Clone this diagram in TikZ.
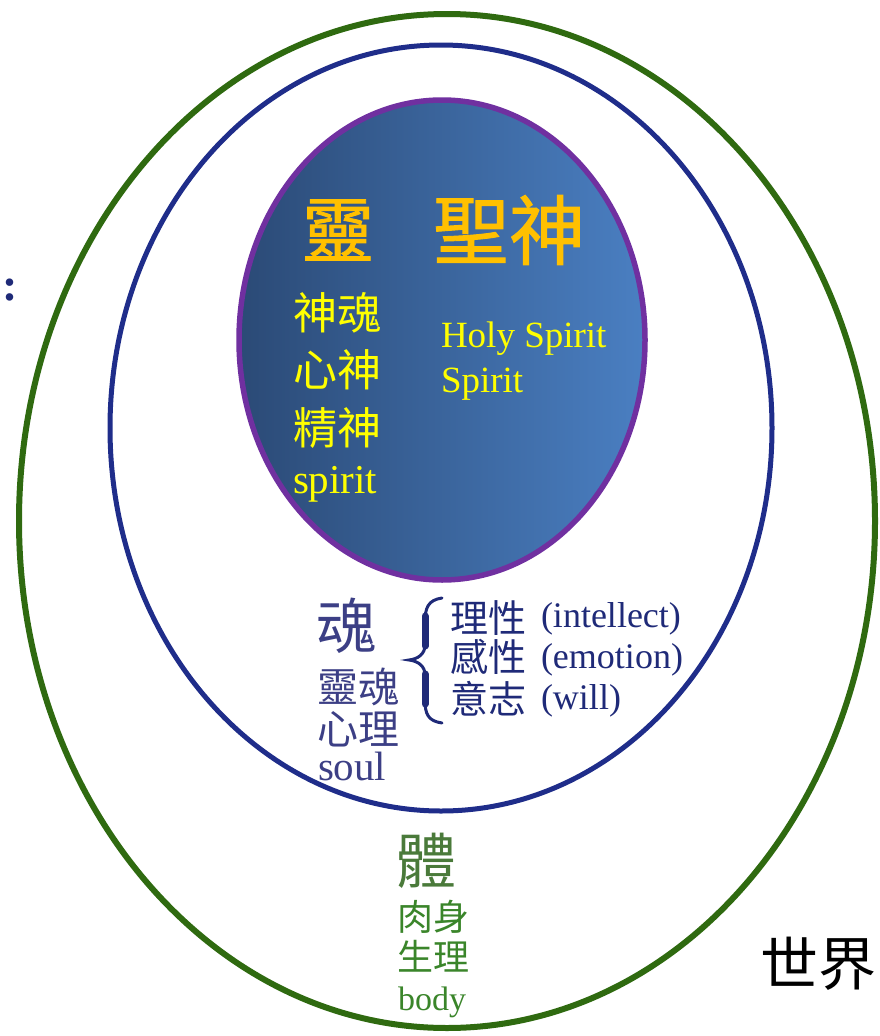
\documentclass[tikz,border=0pt]{standalone}
\usepackage{fontspec}
\setmainfont{Liberation Serif}
\newfontfamily\cjk{Noto Sans CJK TC}
\newfontfamily\cjkb[FakeBold=1.2]{Noto Sans CJK TC}
\definecolor{worldgreen}{HTML}{2F6A10}
\definecolor{soulblue}{HTML}{1F2D8A}
\definecolor{spiritpurple}{HTML}{7030A0}
\definecolor{spiritdark}{HTML}{2B4A76}
\definecolor{spiritlight}{HTML}{4A7FC2}
\definecolor{gold}{HTML}{FFC000}
\definecolor{lemon}{HTML}{FFFF00}
\definecolor{soultext}{HTML}{3C3F85}
\definecolor{navy}{HTML}{1F2A78}
\definecolor{bodygreen}{HTML}{3A852A}
\definecolor{bodychar}{HTML}{4A7A3A}
\tikzset{
  lbl/.style={inner sep=0pt, outer sep=0pt},
  cjkw/.style={lbl, anchor=west, font=\cjk\fontsize{#1}{#1}\selectfont},
  cjkbw/.style={lbl, anchor=west, font=\cjkb\fontsize{#1}{#1}\selectfont},
  latb/.style={lbl, anchor=base west, font=\fontsize{#1}{#1}\selectfont},
}
\begin{document}
\begin{tikzpicture}[x=1pt,y=-1pt]
\useasboundingbox (0,0) rectangle (879,1036);
% outer world ellipse
\draw[worldgreen, line width=6pt] (447,521) ellipse [x radius=428, y radius=507];
% soul ellipse
\draw[soulblue, line width=5pt] (441,428) ellipse [x radius=331, y radius=383];
% spirit ellipse
\shade[left color=spiritdark, right color=spiritlight] (442,340) ellipse [x radius=203, y radius=240];
\draw[spiritpurple, line width=5.5pt] (442,340) ellipse [x radius=203, y radius=240];
% colon at left
\node[lbl, text=navy, font=\bfseries\fontsize{46}{46}\selectfont] (colon) at (10,290) {:};
% spirit texts
\node[cjkbw=72, text=gold] (ling) at (302,230) {靈};
\node[cjkbw=76, text=gold] (holy) at (433,230) {聖神};
\node[cjkw=44, text=lemon] (s1) at (293,313) {神魂};
\node[cjkw=44, text=lemon] (s2) at (293,370) {心神};
\node[cjkw=44, text=lemon] (s3) at (293,428) {精神};
\node[latb=41, text=lemon] (s4) at (293,493) {spirit};
\node[latb=37, text=lemon] (hs) at (441,347) {Holy Spirit};
\node[latb=37, text=lemon] (sp) at (441,392) {Spirit};
% soul texts
\node[cjkw=60, text=soultext] (hun) at (316,626) {魂};
\node[cjkw=41, text=soultext] (h2) at (317,687) {靈魂};
\node[cjkw=41, text=soultext] (h3) at (317,729) {心理};
\node[latb=41, text=soultext] (h4) at (318,780) {soul};
\draw[navy, line width=3pt, line cap=round]
  (442,598) .. controls (428,600) and (425,608) .. (425,622)
  -- (425,645) .. controls (425,654) and (418,659) .. (409,660)
  .. controls (418,661) and (425,666) .. (425,675)
  -- (425,700) .. controls (425,714) and (428,721) .. (442,723);
\draw[navy, line width=7pt, line cap=round] (425,616) -- (425,646);
\draw[navy, line width=7pt, line cap=round] (425,674) -- (425,704);
\node[cjkw=38, text=navy] (f1) at (450,618) {理性};
\node[cjkw=38, text=navy] (f2) at (450,657) {感性};
\node[cjkw=38, text=navy] (f3) at (450,699) {意志};
\node[latb=36, text=navy] (e1) at (541,627) {(intellect)};
\node[latb=36, text=navy] (e2) at (541,668) {(emotion)};
\node[latb=36, text=navy] (e3) at (541,709) {(will)};
% body texts
\node[cjkw=60, text=bodychar] (ti) at (396,861) {體};
\node[cjkw=36, text=bodygreen] (b2) at (397,917) {肉身};
\node[cjkw=36, text=bodygreen] (b3) at (397,956) {生理};
\node[latb=34, text=bodygreen] (b4) at (398,1010) {body};
% world
\node[cjkw=58, text=black] (world) at (760,964) {世界};
\end{tikzpicture}
\end{document}
